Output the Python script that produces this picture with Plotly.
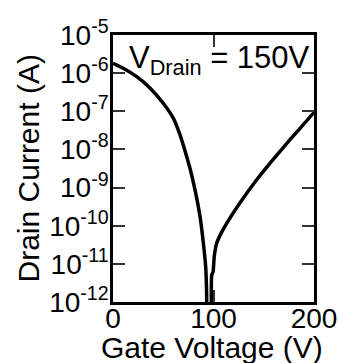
import plotly.graph_objects as go

# Data (Gate voltage in V, drain current in A)
left_gate_v = [0, 10.2, 23.6, 36.8, 50.0, 60.0, 66.7, 71.6, 76.6, 81.6, 86.6,
               89.9, 92.2, 93.0, 93.2, 93.2]
left_current = [1.82e-6, 1.35e-6, 8.1e-7, 4.1e-7, 1.62e-7, 6.6e-8, 2.4e-8, 9.3e-9,
                3.2e-9, 8.7e-10, 1.74e-10, 3.5e-11, 8.5e-12, 2.6e-12, 1.5e-12, 1e-13]

right_gate_v = [98.2, 98.2, 99.6, 100.8, 103.2, 107.5, 114, 126.4, 143, 159.2,
                176.1, 199.3, 200]
right_current = [1e-13, 5.0e-12, 6.3e-12, 1.6e-11, 3.5e-11, 6.3e-11, 1.26e-10,
                 4.0e-10, 1.6e-9, 5.4e-9, 1.8e-8, 8.9e-8, 9.5e-8]

x_ticks = [0, 100, 200]
y_exponents = [-12, -11, -10, -9, -8, -7, -6, -5]
y_tickvals = [10.0 ** e for e in y_exponents]
y_ticktext = [f"10<sup>{e}</sup>" for e in y_exponents]

x_title = "Gate Voltage (V)"
y_title = "Drain Current (A)"
label_text = "V<sub>Drain</sub> = 150V"

FONT = "Liberation Sans, Arial, sans-serif"

fig = go.Figure()
for xs, ys in [(left_gate_v, left_current), (right_gate_v, right_current)]:
    fig.add_trace(go.Scatter(x=xs, y=ys, mode="lines",
                             line=dict(color="black", width=3.5, shape="spline",
                                       smoothing=0.5),
                             showlegend=False))

fig.update_layout(
    width=339, height=363,
    margin=dict(l=113, r=25, t=35, b=61, autoexpand=False),
    paper_bgcolor="white", plot_bgcolor="white",
    font=dict(family=FONT, color="black", size=28),
    xaxis=dict(
        range=[0, 200], tickvals=x_ticks, ticktext=[str(v) for v in x_ticks],
        ticks="inside", ticklen=12, tickwidth=1.5, tickcolor="#333",
        showline=True, linecolor="black", linewidth=2.5, mirror="ticks",
        showgrid=False, zeroline=False, automargin=False,
        tickfont=dict(size=28), ticklabelstandoff=-10,
    ),
    yaxis=dict(
        type="log", range=[-12, -5], tickvals=y_tickvals, ticktext=y_ticktext,
        ticks="inside", ticklen=12, tickwidth=1.5, tickcolor="#333",
        showline=True, linecolor="black", linewidth=2.5, mirror="ticks",
        showgrid=False, zeroline=False, automargin=False,
        tickfont=dict(size=28), ticklabelstandoff=-4,
    ),
    annotations=[
        dict(text=label_text, xref="paper", yref="paper",
             x=0.07, y=0.99, xanchor="left", yanchor="top", showarrow=False,
             font=dict(size=31, family=FONT)),
        dict(text=x_title, xref="paper", yref="paper",
             x=0.495, y=-0.17, xanchor="center", yanchor="middle",
             showarrow=False, font=dict(size=30, family=FONT)),
        dict(text=y_title, xref="paper", yref="paper", textangle=-90,
             x=-0.418, y=0.5, xanchor="center", yanchor="middle",
             showarrow=False, font=dict(size=30, family=FONT)),
    ],
)

fig.write_html("out.html")
